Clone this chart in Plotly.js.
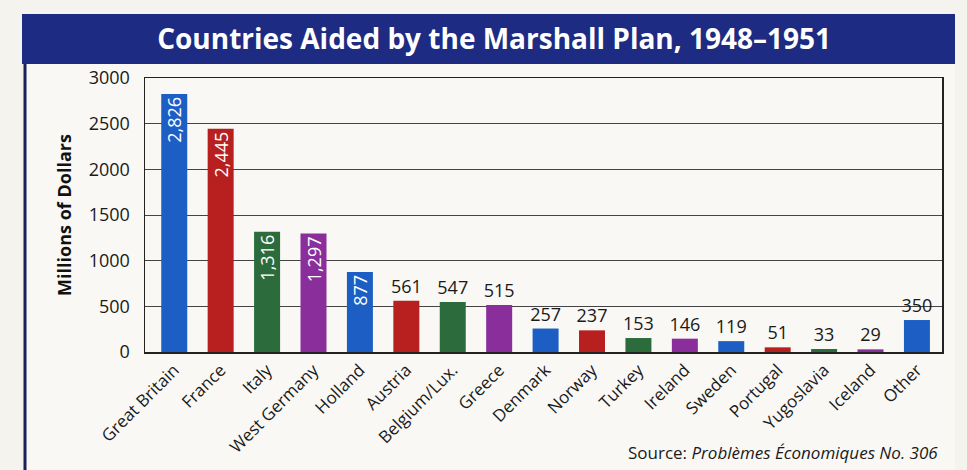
<!DOCTYPE html>
<html>
<head>
<meta charset="utf-8">
<script src="https://cdn.plot.ly/plotly-3.0.1.min.js"></script>
<style>html,body{margin:0;padding:0;background:#f5f3ee;}#chart{width:967px;height:470px;}</style>
</head>
<body>
<div id="chart"></div>
<script>
const countries = ["Great Britain","France","Italy","West Germany","Holland","Austria","Belgium/Lux.","Greece","Denmark","Norway","Turkey","Ireland","Sweden","Portugal","Yugoslavia","Iceland","Other"];
const aid = [2826, 2445, 1316, 1297, 877, 561, 547, 515, 257, 237, 153, 146, 119, 51, 33, 29, 350];
const palette = ["#1c5ec4", "#b81f1f", "#2c6c3c", "#8a2e9c"];
const yTicks = [0, 500, 1000, 1500, 2000, 2500, 3000];

const colors = aid.map((v, i) => palette[i % palette.length]);
const isInside = aid.map(v => v >= 800);

const common = {
  type: 'bar',
  x: countries,
  width: 0.56,
  marker: {color: colors, line: {width: 0}},
  hoverinfo: 'x+y',
  cliponaxis: false,
  constraintext: 'none'
};

const insideTrace = Object.assign({}, common, {
  y: aid.map((v, i) => isInside[i] ? v : null),
  texttemplate: '%{y:,}',
  textposition: 'inside',
  insidetextanchor: 'end',
  textangle: -90,
  insidetextfont: {color: '#ffffff', size: 18, family: 'Open Sans, sans-serif'}
});

const outsideTrace = Object.assign({}, common, {
  y: aid.map((v, i) => isInside[i] ? null : v),
  texttemplate: '%{y:,}',
  textposition: 'outside',
  textangle: 0,
  outsidetextfont: {color: '#1a1a1a', size: 18, family: 'Open Sans, sans-serif'}
});

const px = x => (x - 145) / 797;
const py = y => (352 - y) / 274;

const layout = {
  width: 967,
  height: 470,
  margin: {l: 145, r: 25, t: 78, b: 118},
  paper_bgcolor: '#f5f3ee',
  plot_bgcolor: '#fdfdfc',
  barmode: 'overlay',
  showlegend: false,
  title: {
    text: 'Countries Aided by the Marshall Plan, 1948–1951',
    font: {family: 'Open Sans, sans-serif', size: 28, color: '#ffffff', weight: 'bold'},
    xref: 'container', x: 0.511, xanchor: 'center',
    yref: 'container', y: 1 - 39 / 470, yanchor: 'middle'
  },
  xaxis: {
    type: 'category',
    range: [-0.63, 16.54],
    tickangle: -45,
    tickfont: {family: 'Open Sans, sans-serif', size: 17, color: '#1a1a1a'},
    showline: true, mirror: true, linecolor: '#222', linewidth: 1.5,
    ticks: '', showgrid: false, fixedrange: true
  },
  yaxis: {
    range: [0, 3000],
    tickvals: yTicks,
    tickformat: 'd',
    tickfont: {family: 'Open Sans, sans-serif', size: 18, color: '#1a1a1a'},
    ticklabelstandoff: 10,
    showline: true, mirror: true, linecolor: '#222', linewidth: 1.5,
    showgrid: true, gridcolor: '#444', gridwidth: 1,
    zeroline: false, ticks: '',
    title: {text: 'Millions of Dollars', standoff: 12,
      font: {family: 'Open Sans, sans-serif', size: 18, color: '#111', weight: 'bold'}},
    fixedrange: true
  },
  shapes: [
    {type: 'rect', xref: 'paper', yref: 'paper', x0: px(22), x1: px(955), y0: py(64), y1: py(14),
     fillcolor: '#1e2b82', line: {width: 0}, layer: 'below'},
    {type: 'rect', xref: 'paper', yref: 'paper', x0: px(26), x1: px(955), y0: py(470), y1: py(64),
     fillcolor: '#f9f8f5', line: {width: 0}, layer: 'below'},
    {type: 'line', xref: 'paper', yref: 'paper', x0: px(25), x1: px(25), y0: py(64), y1: py(470),
     line: {color: '#1a1f5e', width: 3}}
  ],
  annotations: [
    {xref: 'paper', yref: 'paper', x: px(940), y: py(452), xanchor: 'right', yanchor: 'middle',
     showarrow: false, text: 'Source: <i>Problèmes Économiques No. 306</i>',
     font: {family: 'Open Sans, sans-serif', size: 17, color: '#1a1a1a'}}
  ]
};

Plotly.newPlot('chart', [insideTrace, outsideTrace], layout, {displayModeBar: false, staticPlot: true});
</script>
</body>
</html>
